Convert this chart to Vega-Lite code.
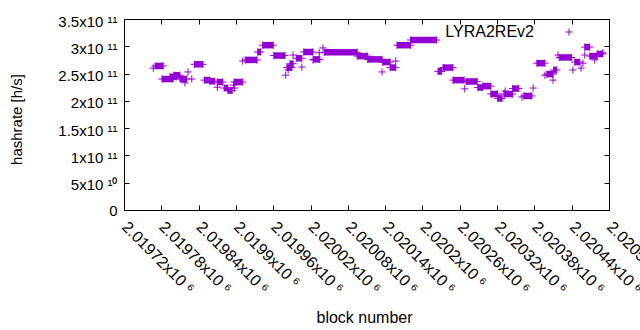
{
  "$schema": "https://vega.github.io/schema/vega-lite/v6.json",
  "width": 485,
  "height": 191,
  "autosize": {"type": "none"},
  "padding": {"left": 124, "top": 19, "right": 31, "bottom": 120},
  "background": "white",
  "config": {
    "view": {"stroke": "black", "strokeWidth": 1},
    "font": "Liberation Sans",
    "axis": {"grid": false, "domain": false, "labelColor": "black", "titleColor": "black", "tickColor": "black", "titleFontWeight": "normal", "labelFont": "Liberation Sans", "titleFont": "Liberation Sans"},
    "legend": {"labelFont": "Liberation Sans", "labelColor": "black"}
  },
  "datasets": {
    "runs": [
      {"s": 2019770, "e": 2019783, "h": 264000000000},
      {"s": 2019781, "e": 2019799, "h": 240000000000},
      {"s": 2019794, "e": 2019805, "h": 244000000000},
      {"s": 2019800, "e": 2019810, "h": 247000000000},
      {"s": 2019810, "e": 2019821, "h": 240000000000},
      {"s": 2019833, "e": 2019847, "h": 267000000000},
      {"s": 2019849, "e": 2019858, "h": 238000000000},
      {"s": 2019858, "e": 2019866, "h": 236000000000},
      {"s": 2019870, "e": 2019879, "h": 234500000000},
      {"s": 2019881, "e": 2019887, "h": 223500000000},
      {"s": 2019887, "e": 2019894, "h": 219000000000},
      {"s": 2019897, "e": 2019911, "h": 234500000000},
      {"s": 2019915, "e": 2019934, "h": 275000000000},
      {"s": 2019935, "e": 2019940, "h": 289500000000},
      {"s": 2019943, "e": 2019960, "h": 302000000000},
      {"s": 2019961, "e": 2019979, "h": 283000000000},
      {"s": 2019982, "e": 2019990, "h": 261000000000},
      {"s": 2019987, "e": 2019992, "h": 268000000000},
      {"s": 2019997, "e": 2020006, "h": 278000000000},
      {"s": 2020009, "e": 2020024, "h": 289500000000},
      {"s": 2020025, "e": 2020035, "h": 276000000000},
      {"s": 2020042, "e": 2020095, "h": 289000000000},
      {"s": 2020095, "e": 2020112, "h": 282000000000},
      {"s": 2020112, "e": 2020135, "h": 276000000000},
      {"s": 2020136, "e": 2020148, "h": 271000000000},
      {"s": 2020148, "e": 2020157, "h": 261000000000},
      {"s": 2020159, "e": 2020181, "h": 302000000000},
      {"s": 2020181, "e": 2020223, "h": 311500000000},
      {"s": 2020225, "e": 2020231, "h": 254000000000},
      {"s": 2020233, "e": 2020249, "h": 261000000000},
      {"s": 2020249, "e": 2020267, "h": 238000000000},
      {"s": 2020270, "e": 2020288, "h": 235500000000},
      {"s": 2020289, "e": 2020297, "h": 224500000000},
      {"s": 2020297, "e": 2020310, "h": 227000000000},
      {"s": 2020310, "e": 2020321, "h": 212500000000},
      {"s": 2020321, "e": 2020328, "h": 204500000000},
      {"s": 2020331, "e": 2020345, "h": 212500000000},
      {"s": 2020345, "e": 2020355, "h": 222500000000},
      {"s": 2020363, "e": 2020376, "h": 209000000000},
      {"s": 2020384, "e": 2020397, "h": 269000000000},
      {"s": 2020400, "e": 2020410, "h": 249000000000},
      {"s": 2020411, "e": 2020416, "h": 256500000000},
      {"s": 2020420, "e": 2020440, "h": 279500000000},
      {"s": 2020445, "e": 2020453, "h": 271000000000},
      {"s": 2020461, "e": 2020469, "h": 298500000000},
      {"s": 2020469, "e": 2020481, "h": 282000000000},
      {"s": 2020481, "e": 2020490, "h": 286000000000}
    ],
    "pts": [
      {"b": 2019767, "h": 260000000000},
      {"b": 2019818, "h": 233000000000},
      {"b": 2019823, "h": 253000000000},
      {"b": 2019829, "h": 240000000000},
      {"b": 2019870, "h": 225000000000},
      {"b": 2019896, "h": 229000000000},
      {"b": 2019898, "h": 223500000000},
      {"b": 2019911, "h": 273000000000},
      {"b": 2019980, "h": 247000000000},
      {"b": 2019984, "h": 256500000000},
      {"b": 2019992, "h": 284000000000},
      {"b": 2020006, "h": 262000000000},
      {"b": 2020024, "h": 275000000000},
      {"b": 2020034, "h": 288000000000},
      {"b": 2020040, "h": 297000000000},
      {"b": 2020135, "h": 253000000000},
      {"b": 2020157, "h": 273000000000},
      {"b": 2020268, "h": 222000000000},
      {"b": 2020333, "h": 218000000000},
      {"b": 2020360, "h": 207000000000},
      {"b": 2020378, "h": 223500000000},
      {"b": 2020397, "h": 247000000000},
      {"b": 2020410, "h": 238000000000},
      {"b": 2020418, "h": 284000000000},
      {"b": 2020442, "h": 256500000000},
      {"b": 2020455, "h": 260000000000},
      {"b": 2020458, "h": 269000000000},
      {"b": 2020461, "h": 284000000000},
      {"b": 2020477, "h": 275000000000},
      {"b": 2020490, "h": 288000000000}
    ]
  },
  "resolve": {"scale": {"x": "independent", "y": "independent"}},
  "layer": [
    {
      "data": {"name": "runs"},
      "mark": {"type": "rule", "color": "#9400d3", "strokeWidth": 6.5, "strokeCap": "butt"},
      "encoding": {
        "x": {"field": "s", "type": "quantitative",
          "scale": {"domain": [2019720, 2020500], "nice": false, "zero": false},
          "axis": {"orient": "bottom", "values": [2019720, 2019780, 2019840, 2019900, 2019960, 2020020, 2020080, 2020140, 2020200, 2020260, 2020320, 2020380, 2020440, 2020500],
            "labelExpr": "format(datum.value / 1000000, '.5~f') + 'x10 ⁶'",
            "labelAngle": 45, "labelAlign": "left", "labelBaseline": "middle", "labelFontSize": 16, "labelPadding": 19, "labelOverlap": false, "labelFlush": false, "labelBound": false,
            "tickSize": -5, "title": "block number", "titleFontSize": 16, "titleX": 240, "titleY": 112, "titleAlign": "center", "titleBaseline": "alphabetic"}},
        "x2": {"field": "e"},
        "y": {"field": "h", "type": "quantitative",
          "scale": {"domain": [0, 350000000000], "nice": false, "zero": false},
          "axis": {"orient": "left", "values": [0, 50000000000, 100000000000, 150000000000, 200000000000, 250000000000, 300000000000, 350000000000],
            "labelExpr": "datum.value == 0 ? '0' : (datum.value < 100000000000 ? format(datum.value / 10000000000, '~g') + 'x10 ¹⁰' : format(datum.value / 100000000000, '~g') + 'x10 ¹¹')",
            "labelFontSize": 15, "labelPadding": 12, "labelBaseline": "middle", "labelOverlap": false, "labelFlush": false,
            "labelOffset": {"condition": {"test": "datum.value == 0", "value": 0}, "value": 2},
            "tickSize": -5, "title": "hashrate [h/s]", "titleFontSize": 15, "titleX": -103, "titleY": 100, "titleAngle": 270, "titleAlign": "center", "titleBaseline": "alphabetic"}}
      }
    },
    {
      "data": {"name": "runs"},
      "mark": {"type": "point", "shape": "M-1,0L1,0M0,-1L0,1", "size": 53, "filled": false, "opacity": 1, "strokeWidth": 1, "color": "#9400d3"},
      "encoding": {
        "x": {"field": "s", "type": "quantitative", "scale": {"domain": [2019720, 2020500], "nice": false, "zero": false}, "axis": null},
        "y": {"field": "h", "type": "quantitative", "scale": {"domain": [0, 350000000000], "nice": false, "zero": false}, "axis": null}
      }
    },
    {
      "data": {"name": "runs"},
      "mark": {"type": "point", "shape": "M-1,0L1,0M0,-1L0,1", "size": 53, "filled": false, "opacity": 1, "strokeWidth": 1, "color": "#9400d3"},
      "encoding": {
        "x": {"field": "e", "type": "quantitative", "scale": {"domain": [2019720, 2020500], "nice": false, "zero": false}, "axis": null},
        "y": {"field": "h", "type": "quantitative", "scale": {"domain": [0, 350000000000], "nice": false, "zero": false}, "axis": null}
      }
    },
    {
      "data": {"name": "pts"},
      "mark": {"type": "point", "shape": "M-1,0L1,0M0,-1L0,1", "size": 53, "filled": false, "opacity": 1, "strokeWidth": 1},
      "encoding": {
        "x": {"field": "b", "type": "quantitative", "scale": {"domain": [2019720, 2020500], "nice": false, "zero": false},
          "axis": {"orient": "top", "values": [2019720, 2019780, 2019840, 2019900, 2019960, 2020020, 2020080, 2020140, 2020200, 2020260, 2020320, 2020380, 2020440, 2020500], "labels": false, "tickSize": -5, "title": null}},
        "y": {"field": "h", "type": "quantitative", "scale": {"domain": [0, 350000000000], "nice": false, "zero": false},
          "axis": {"orient": "right", "values": [0, 50000000000, 100000000000, 150000000000, 200000000000, 250000000000, 300000000000, 350000000000], "labels": false, "tickSize": -5, "title": null}},
        "color": {"datum": "LYRA2REv2", "type": "nominal", "scale": {"range": ["#9400d3"]},
          "legend": {"title": null, "orient": "none", "legendX": 437, "legendY": 5, "padding": 0, "symbolType": "M-1,0L1,0M0,-1L0,1", "symbolSize": 53, "symbolStrokeWidth": 1, "symbolFillColor": "transparent", "symbolStrokeColor": "#9400d3", "labelFontSize": 16, "labelAlign": "right", "labelOffset": -43, "labelLimit": 0}}
      }
    }
  ]
}
